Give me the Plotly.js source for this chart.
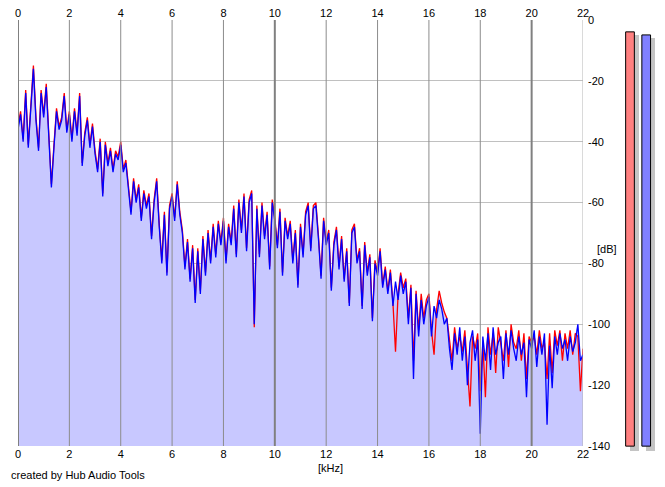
<!DOCTYPE html>
<html><head><meta charset="utf-8">
<script src="https://cdn.plot.ly/plotly-3.0.1.min.js"></script>
<style>html,body{margin:0;padding:0;background:#fff;}#chart{width:665px;height:487px;}</style>
</head><body><div id="chart"></div>
<script>
// frequency grid (kHz)
const freqStep = 0.1;
const xTicks = [0,2,4,6,8,10,12,14,16,18,20,22];
const yTicks = [0,-20,-40,-60,-80,-100,-120,-140];
const yTickLabels = ['0','-20','-40','-60','-80','-100','-120','-140'];

// channel spectra in dB, one value per 0.1 kHz from 0 to 22 kHz
const blueDb = [
 -36,-31,-40,-24,-42,-28,-16,-33,-43,-24,
 -32,-22,-38,-55,-42,-30,-36,-33,-25,-37,
 -31,-40,-30,-38,-25,-48,-38,-33,-42,-35,
 -44,-50,-40,-58,-41,-48,-43,-50,-44,-46,
 -41,-50,-47,-55,-64,-53,-60,-55,-66,-57,
 -62,-58,-72,-60,-53,-68,-80,-64,-84,-62,
 -58,-66,-54,-64,-70,-82,-73,-86,-75,-93,
 -76,-90,-72,-84,-70,-80,-68,-78,-67,-74,
 -66,-80,-68,-74,-62,-78,-60,-70,-58,-76,
 -60,-57,-100,-62,-78,-61,-72,-64,-82,-60,
 -66,-75,-63,-84,-66,-72,-67,-80,-70,-88,
 -68,-78,-64,-61,-76,-62,-61,-72,-85,-66,
 -74,-70,-89,-74,-69,-82,-72,-86,-76,-94,
 -70,-68,-80,-76,-95,-74,-84,-78,-99,-80,
 -84,-76,-88,-82,-90,-83,-94,-86,-92,-84,
 -90,-86,-100,-88,-118,-90,-104,-92,-100,-94,
 -91,-104,-94,-98,-92,-95,-100,-98,-108,-115,
 -103,-110,-101,-112,-104,-120,-106,-102,-112,-105,
 -136,-104,-112,-103,-115,-101,-110,-106,-104,-118,
 -103,-110,-102,-108,-112,-104,-110,-106,-124,-105,
 -108,-102,-114,-104,-110,-103,-133,-107,-121,-104,
 -110,-103,-108,-105,-112,-104,-109,-106,-100,-112,
 -110
];
const redDb = [
 -35,-30,-39,-23,-41,-27,-15,-32,-42,-23,
 -31,-21,-37,-54,-41,-29,-35,-32,-24,-36,
 -30,-39,-29,-37,-24,-47,-37,-32,-41,-34,
 -43,-49,-39,-57,-40,-47,-42,-49,-43,-45,
 -40,-49,-46,-54,-63,-52,-59,-54,-65,-56,
 -61,-57,-71,-59,-52,-67,-79,-63,-83,-61,
 -57,-65,-53,-63,-69,-81,-72,-85,-74,-92,
 -75,-89,-71,-83,-69,-79,-67,-77,-66,-73,
 -65,-79,-67,-73,-61,-77,-59,-69,-57,-75,
 -59,-56,-101,-61,-77,-60,-71,-63,-81,-59,
 -65,-74,-62,-83,-65,-71,-66,-79,-69,-87,
 -67,-77,-63,-60,-75,-61,-60,-71,-84,-65,
 -73,-69,-88,-73,-68,-81,-71,-85,-75,-93,
 -69,-67,-79,-75,-94,-73,-83,-77,-98,-79,
 -83,-75,-87,-81,-89,-82,-93,-109,-90,-83,
 -88,-85,-98,-87,-112,-89,-102,-90,-98,-92,
 -90,-102,-110,-95,-89,-93,-96,-98,-106,-112,
 -101,-108,-104,-109,-102,-114,-127,-104,-108,-103,
 -122,-106,-124,-101,-110,-103,-116,-101,-106,-112,
 -102,-114,-100,-106,-108,-102,-112,-103,-118,-104,
 -106,-104,-110,-102,-108,-106,-118,-103,-116,-102,
 -107,-102,-112,-103,-108,-102,-110,-103,-104,-122,
 -108
];
// level meters (dB)
const meterNames = ['L','R'];
const meterLevels = [-3.9, -4.9];

const freqs = blueDb.map((_, i) => +(i * freqStep).toFixed(2));
const envelope = blueDb.map((v, i) => Math.max(v, redDb[i]));
const yMin = -140, yMax = 0, xMax = 22;

// vertical grid lines drawn over the fill
function vLines(vals) {
  const xs = [], ys = [];
  vals.forEach(v => { xs.push(v, v, null); ys.push(yMax, yMin, null); });
  return {xs, ys};
}
const minorV = vLines(xTicks.filter(v => v % 10 !== 0 && v !== xMax));
const majorV = vLines(xTicks.filter(v => v % 10 === 0));
const edgeV = vLines(xTicks.filter(v => v === xMax));

const traces = [
  {x: freqs.concat([xMax, 0]), y: envelope.concat([yMin, yMin]), type: 'scatter', mode: 'lines',
   fill: 'toself', fillcolor: '#c8c8ff', line: {width: 0}, hoverinfo: 'skip', xaxis: 'x', yaxis: 'y'},
  {x: minorV.xs, y: minorV.ys, type: 'scatter', mode: 'lines', line: {color: '#8c8c8c', width: 1}, xaxis: 'x2', yaxis: 'y'},
  {x: majorV.xs, y: majorV.ys, type: 'scatter', mode: 'lines', line: {color: '#808080', width: 2}, xaxis: 'x2', yaxis: 'y'},
  {x: edgeV.xs, y: edgeV.ys, type: 'scatter', mode: 'lines', line: {color: '#b4b4b4', width: 1}, xaxis: 'x2', yaxis: 'y'},
  {x: freqs, y: redDb, type: 'scatter', mode: 'lines', line: {color: '#ff0000', width: 1.3}, xaxis: 'x', yaxis: 'y'},
  {x: freqs, y: blueDb, type: 'scatter', mode: 'lines', line: {color: '#0000ff', width: 1.3}, xaxis: 'x', yaxis: 'y'}
];

// meter bars (x3 axis in pixel-like units)
const meterCenters = [10, 26.2];
const meterWidth = 8.7;
const shadowBase = -141.6;
traces.push({
  type: 'bar', x: meterCenters.map(c => c + 4.3), y: meterLevels.map(l => (l - 1) - shadowBase), base: shadowBase,
  width: meterWidth, marker: {color: '#c4c4c4', line: {width: 0}}, xaxis: 'x3', yaxis: 'y3', text: meterNames, textposition: 'none'
});
traces.push({
  type: 'bar', x: meterCenters, y: meterLevels.map(l => l - yMin), base: yMin,
  width: meterWidth, marker: {color: ['#ff8080', '#8080ff'], line: {color: '#000', width: 1}},
  xaxis: 'x3', yaxis: 'y3', text: meterNames, textposition: 'none'
});

const W = 665, H = 487, mL = 18, mR = 10, mT = 20, mB = 36;
const pw = W - mL - mR, ph = H - mT - mB;
const plotRight = 583, plotBottom = 446;
const xDom = [0, (plotRight - mL) / pw];
const yDom = [(H - mB - plotBottom) / ph, 1];
const font = {family: 'Arial, "Liberation Sans", sans-serif', size: 11, color: '#000'};

const layout = {
  width: W, height: H, margin: {l: mL, r: mR, t: mT, b: mB, pad: 0},
  paper_bgcolor: '#fff', plot_bgcolor: 'rgba(0,0,0,0)', showlegend: false, font: font, bargap: 0,
  xaxis: {domain: xDom, range: [0, xMax], tickvals: xTicks, ticktext: xTicks.map(String), showgrid: false,
          zeroline: false, showline: false, ticks: '', anchor: 'y', tickfont: font, fixedrange: true},
  xaxis2: {domain: xDom, range: [0, xMax], overlaying: 'x', side: 'top', anchor: 'y', tickvals: xTicks,
           ticktext: xTicks.map(String), showgrid: false, zeroline: false, showline: false, ticks: '', tickfont: font},
  yaxis: {domain: yDom, range: [yMin, yMax], side: 'right', tickvals: yTicks, ticktext: yTickLabels, showgrid: true,
          gridcolor: '#c0c0c0', gridwidth: 1, zeroline: false, showline: false, ticks: '', tickfont: font,
          ticklabelstandoff: 4, anchor: 'x'},
  xaxis3: {domain: [(620 - mL) / pw, 1], range: [0, 35], visible: false, anchor: 'y3'},
  yaxis3: {domain: [0, 1], range: [shadowBase, yMax], visible: false, anchor: 'x3'},
  annotations: [
    {text: '[dB]', xref: 'paper', yref: 'paper', x: (607 - mL) / pw, y: 1 - (249 - mT) / ph, showarrow: false, font: font, xanchor: 'center', yanchor: 'middle'},
    {text: '[kHz]', xref: 'paper', yref: 'paper', x: (330 - mL) / pw, y: 1 - (468 - mT) / ph, showarrow: false, font: font, xanchor: 'center', yanchor: 'middle'},
    {text: 'created by Hub Audio Tools', xref: 'paper', yref: 'paper', x: (9 - mL) / pw, y: 1 - (475 - mT) / ph, showarrow: false, font: font, xanchor: 'left', yanchor: 'middle'}
  ]
};
Plotly.newPlot('chart', traces, layout, {staticPlot: true, displayModeBar: false});
</script></body></html>
